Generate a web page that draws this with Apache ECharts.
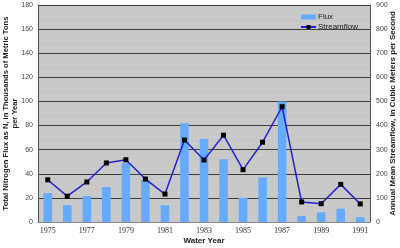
<!DOCTYPE html>
<html>
<head>
<meta charset="utf-8">
<script src="https://cdn.jsdelivr.net/npm/echarts@6/dist/echarts.min.js"></script>
<style>html,body{margin:0;padding:0;background:#fff}#c{width:400px;height:248px}</style>
</head>
<body>
<div id="c"></div>
<script>
var years = ['1975','1976','1977','1978','1979','1980','1981','1982','1983','1984','1985','1986','1987','1988','1989','1990','1991'];
var flux = [24, 14, 21.5, 29, 49, 35, 14, 82, 69, 52, 20, 37, 100, 5, 8, 11, 4];
var streamflow = [175, 107, 166, 245, 258, 178, 116, 340, 257, 360, 217, 331, 478, 83, 76, 156, 75];
var leftTicks = [0, 180, 20];
var rightTicks = [0, 900, 100];

var chart = echarts.init(document.getElementById('c'), null, {renderer: 'canvas'});
chart.setOption({
  animation: false,
  backgroundColor: '#ffffff',
  grid: {left: 38, right: 30, top: 5, bottom: 26, show: true, backgroundColor: '#c8c8c8', borderWidth: 0, containLabel: false, outerBoundsMode: 'none'},
  legend: {
    orient: 'vertical', left: 295, top: 8, itemWidth: 15, itemHeight: 5, itemGap: 2,
    textStyle: {fontFamily: 'Liberation Sans', fontSize: 8, color: '#222', padding: [0,0,0,-3]},
    data: [{name: 'Flux', icon: 'rect'}, {name: 'Streamflow'}]
  },
  xAxis: {
    type: 'category', data: years, boundaryGap: true,
    axisTick: {show: false},
    axisLine: {lineStyle: {color: '#888', width: 1}},
    axisLabel: {interval: 1, fontFamily: 'Liberation Serif', fontSize: 8, color: '#333', margin: 5},
    name: 'Water Year', nameLocation: 'middle', nameGap: 15, nameMoveOverlap: false,
    nameTextStyle: {fontFamily: 'Liberation Sans', fontWeight: 'bold', fontSize: 8, color: '#222'}
  },
  yAxis: [{
    type: 'value', min: leftTicks[0], max: leftTicks[1], interval: leftTicks[2],
    axisLine: {show: true, lineStyle: {color: '#555', width: 1}},
    axisTick: {show: false},
    axisLabel: {fontFamily: 'Liberation Sans', fontSize: 7, color: '#444', margin: 5},
    splitLine: {show: true, lineStyle: {color: '#3c3c3c', width: 1}},
    minorTick: {show: false, splitNumber: 4},
    minorSplitLine: {show: true, lineStyle: {color: '#d8d8d8', type: [1, 3], width: 1}},
    name: 'Total Nitrogen Flux as N, in Thousands of Metric Tons\nper Year',
    nameLocation: 'middle', nameGap: 19, nameRotate: 90, nameMoveOverlap: false,
    nameTextStyle: {fontFamily: 'Liberation Sans', fontWeight: 'bold', fontSize: 7.6, color: '#222', lineHeight: 8.5}
  }, {
    type: 'value', min: rightTicks[0], max: rightTicks[1], interval: rightTicks[2],
    position: 'right',
    axisLine: {show: true, lineStyle: {color: '#555', width: 1}},
    axisTick: {show: false},
    axisLabel: {fontFamily: 'Liberation Sans', fontSize: 7, color: '#444', margin: 6},
    splitLine: {show: false},
    name: 'Annual Mean Streamflow, in Cubic Meters per Second',
    nameLocation: 'middle', nameGap: 19, nameRotate: 90, nameMoveOverlap: false,
    nameTextStyle: {fontFamily: 'Liberation Sans', fontWeight: 'bold', fontSize: 8, color: '#222'}
  }],
  series: [{
    name: 'Flux', type: 'bar', data: flux, yAxisIndex: 0, barWidth: '44%',
    itemStyle: {color: '#66aaff'}
  }, {
    name: 'Streamflow', type: 'line', data: streamflow, yAxisIndex: 1,
    lineStyle: {color: '#2222cc', width: 1.5},
    itemStyle: {color: '#000'},
    symbol: 'rect', symbolSize: 5, showSymbol: true
  }]
});
</script>
</body>
</html>
